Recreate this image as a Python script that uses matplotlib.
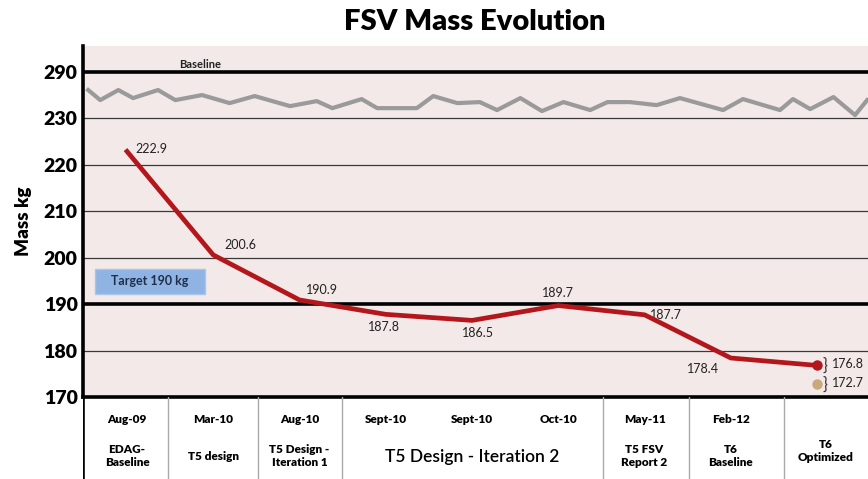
import numpy as np
import matplotlib.pyplot as plt
from matplotlib.patches import Rectangle

plt.rcParams['font.family'] = ['Lato', 'DejaVu Sans']

# data
dates = ['Aug-09', 'Mar-10', 'Aug-10', 'Sept-10', 'Sept-10', 'Oct-10', 'May-11', 'Feb-12', '']
mass = [222.9, 200.6, 190.9, 187.8, 186.5, 189.7, 187.7, 178.4, 176.8]
optimized_alt = 172.7
target = 190
baseline_top = 290
yticks = [170, 180, 190, 200, 210, 220, 230, 290]

# gray "baseline" wiggle
base_x = [-0.45, -0.31, -0.10, 0.07, 0.36, 0.56, 0.87, 1.19, 1.48, 1.89, 2.20, 2.38,
          2.72, 2.90, 3.36, 3.55, 3.83, 4.09, 4.29, 4.56, 4.81, 5.06, 5.37, 5.57,
          5.83, 6.14, 6.41, 6.91, 7.14, 7.57, 7.72, 7.92, 8.19, 8.44, 8.58]
base_kg = [266.7, 253.7, 266.7, 256.3, 266.7, 253.7, 260.2, 249.8, 258.9, 245.9, 252.4, 243.3,
           255.0, 243.3, 243.3, 258.9, 249.8, 251.1, 240.8, 256.3, 239.5, 251.1, 240.8, 251.1,
           251.1, 247.2, 256.3, 240.8, 255.0, 240.8, 255.0, 242.1, 257.6, 234.3, 253.7]

# stage row of the table: (label, x center)
stages = [('EDAG-\nBaseline', 0), ('T5 design', 1), ('T5 Design -\nIteration 1', 2),
          ('T5 FSV\nReport 2', 6), ('T6\nBaseline', 7)]
col_edges = [0.475, 1.52, 2.49, 5.52, 6.52, 7.62]

# label offsets (points) and alignment
lbl_off = [(6, 2, 'left'), (8, 7, 'left'), (5, 7, 'left'), (-1, -9, 'center'),
           (4, -9, 'center'), (0, 9, 'center'), (4, 0, 'left'), (-20, -8, 'center')]


# broken y scale: 170-230 in steps of 10, then 230-290 squeezed
def fwd(v):
    v = np.asarray(v, float)
    return np.where(v <= 230, (v - 170) / 10, 6 + (v - 230) / 60)


def inv(p):
    p = np.asarray(p, float)
    return np.where(p <= 6, 170 + p * 10, 230 + (p - 6) * 60)


fig = plt.figure(figsize=(8.68, 4.79), dpi=100)
ax = fig.add_axes([83 / 868, 1 - 397 / 479, 1 - 83 / 868, (397 - 46) / 479])
ax.set_facecolor('#f3e9e8')
ax.set_yscale('function', functions=(fwd, inv))
ax.set_ylim(170, 323.6)
ax.set_xlim(-0.51, 8.59)

for t in yticks:
    if t in (target, baseline_top):
        ax.axhline(t, color='black', lw=2.6, zorder=2)
    elif t != 170:
        ax.axhline(t, color='#3a3a3a', lw=0.9, zorder=1)

ax.plot(base_x, base_kg, color='#9a9a9a', lw=3, zorder=3)
ax.text(0.85, 292, 'Baseline', fontsize=8, fontweight='bold', ha='center', va='bottom', color='#222222')

x = np.arange(len(mass))
ax.plot(x, mass, color='#b3171c', lw=3.4, zorder=4, solid_joinstyle='round')
ax.plot(x[-1], mass[-1], 'o', color='#b3171c', ms=6.5, zorder=5)
ax.plot(x[-1], optimized_alt, 'o', color='#c9a97c', ms=6.5, zorder=5)

for xi, m, (dx, dy, ha) in zip(x, mass, lbl_off):
    ax.annotate(f'{m:.1f}', (xi, m), xytext=(dx, dy), textcoords='offset points',
                ha=ha, va='center', fontsize=9, color='#222222')
for m in (mass[-1], optimized_alt):
    ax.annotate('}', (x[-1], m), xytext=(4, 0), textcoords='offset points',
                ha='left', va='center', fontsize=12, color='#333333')
    ax.annotate(f'{m:.1f}', (x[-1], m), xytext=(11, 1), textcoords='offset points',
                ha='left', va='center', fontsize=9, color='#222222')

# target box
ax.add_patch(Rectangle((-0.37, 192.2), 1.27, 5.4, facecolor='#8fb4e3', edgecolor='#a9c6ea', lw=1, zorder=3))
ax.text(0.265, 194.9, 'Target 190 kg', fontsize=9, fontweight='bold', ha='center', va='center',
        color='#1f2f4a', zorder=4)

ax.set_yticks(yticks)
ax.set_yticklabels([str(t) for t in yticks], fontsize=14, fontweight='heavy')
ax.set_xticks([])
ax.tick_params(axis='y', length=0, pad=4)
ax.set_ylabel('Mass kg', fontsize=13.5, fontweight='heavy', labelpad=8)
for s in ('top', 'right'):
    ax.spines[s].set_visible(False)
ax.spines['left'].set_linewidth(2.6)
ax.spines['bottom'].set_linewidth(2.6)

fig.text(0.547, 0.955, 'FSV Mass Evolution', fontsize=21, fontweight='heavy', ha='center', va='center')

# table below the chart
tb = fig.add_axes([83 / 868, 0, 1 - 83 / 868, (479 - 397) / 479])
tb.set_xlim(ax.get_xlim())
tb.set_ylim(0, 1)
tb.axis('off')
tb.axvline(-0.51, color='black', lw=2.6)
for e in col_edges:
    tb.axvline(e, color='#aaaaaa', lw=1)
for xi, d in zip(x, dates):
    if d:
        tb.text(xi, 0.72, d, fontsize=8.5, fontweight='heavy', ha='center', va='center')
for lab, xc in stages:
    tb.text(xc, 0.28, lab, fontsize=8.5, fontweight='heavy', ha='center', va='center', linespacing=1.3)
tb.text(4, 0.27, 'T5 Design - Iteration 2', fontsize=12.5, fontweight='semibold', ha='center', va='center')
tb.text(8.1, 0.34, 'T6\nOptimized', fontsize=8.5, fontweight='heavy', ha='center', va='center', linespacing=1.3)

fig.savefig('out.png', dpi=100)
